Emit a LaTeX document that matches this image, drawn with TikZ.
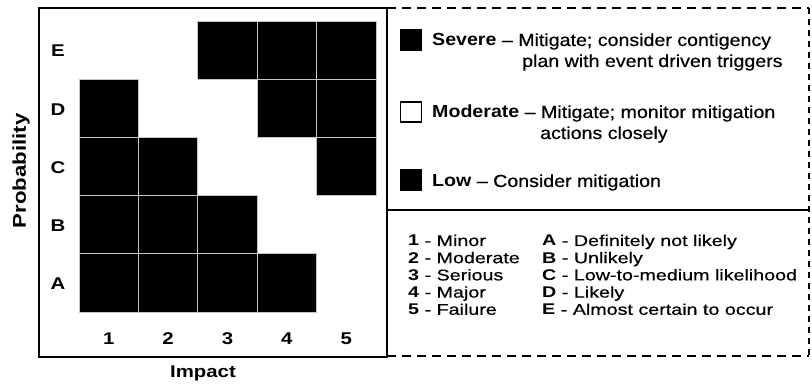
\documentclass[tikz,border=0pt]{standalone}
\usepackage{fontspec}
\setmainfont[FakeStretch=1.2,Ligatures=TeX]{Liberation Sans}
\newfontfamily\topf[FakeStretch=1.12,FakeBold=0.5,Ligatures=TeX,BoldFeatures={FakeBold=0}]{Liberation Sans}
\newfontfamily\botf[FakeStretch=1.27,FakeBold=0.5,Ligatures=TeX,BoldFeatures={FakeBold=0}]{Liberation Sans}
\begin{document}
\begin{tikzpicture}[x=1pt,y=-1pt,
  frame/.style={line width=2pt},
  dashframe/.style={line width=2pt,dash pattern=on 9pt off 6pt},
  vdashframe/.style={line width=1.2pt,dash pattern=on 6pt off 5pt},
  cellblk/.style={fill=black,draw=gray!45,line width=0.8pt},
  axlbl/.style={font=\bfseries\fontsize{17}{17}\selectfont,inner sep=0pt},
  axtitle/.style={font=\bfseries\fontsize{18.5}{18.5}\selectfont,inner sep=0pt},
  toptxt/.style={anchor=base west,inner sep=0pt,font=\topf\fontsize{17.5}{21}\selectfont},
  bottxt/.style={anchor=base west,inner sep=0pt,font=\botf\fontsize{15.5}{17}\selectfont},
  keybox/.style={minimum width=21pt,minimum height=20pt,inner sep=0pt,line width=1.3pt}
]
\useasboundingbox (0,0) rectangle (812,385);
\fill[white] (0,0) rectangle (812,385);

% matrix cells
\foreach \c/\r in {3/5,4/5,5/5,1/4,4/4,5/4,1/3,2/3,5/3,1/2,2/2,3/2,1/1,2/1,3/1,4/1}{
  \draw[cellblk] ({79+(\c-1)*59.4},{21+(5-\r)*58.2}) rectangle ++(59.4,58.2);
}

% row labels
\foreach \l/\r in {A/1,B/2,C/3,D/4,E/5}{
  \node[axlbl] (row\l) at (58,{21+(5-\r)*58.2+30}) {\l};
}
% column labels
\foreach \c in {1,...,5}{
  \node[axlbl] (col\c) at ({79+(\c-0.5)*59.4},339) {\c};
}
\node[axtitle,rotate=90] (prob) at (21,171) {Probability};
\node[axtitle,anchor=base,font=\bfseries\fontsize{17}{17}\selectfont] (imp) at (203,377) {Impact};

% frames
\draw[frame] (39,8) rectangle (387,357);
\draw[dashframe] (387,8) -- (809,8);
\draw[dashframe] (387,356) -- (809,356);
\draw[vdashframe] (809,8) -- (809,356);
\draw[line width=1.6pt] (387,210) -- (810,210);

% top legend
\node[keybox,fill=black,draw=black] (ksev) at (411,40) {};
\node[keybox,fill=white,draw=black] (kmod) at (411,112) {};
\node[keybox,fill=black,draw=black] (klow) at (411,180) {};

\node[toptxt] (sev1) at (432,46) {\textbf{Severe} – Mitigate; consider contigency};
\node[toptxt] (sev2) at (522,67) {plan with event driven triggers};
\node[toptxt] (mod1) at (432,118) {\textbf{Moderate} – Mitigate; monitor mitigation};
\node[toptxt] (mod2) at (540,139) {actions closely};
\node[toptxt] (low1) at (432,187) {\textbf{Low} – Consider mitigation};

% bottom legend
\foreach \i/\n [count=\k from 0] in {1/Minor,2/Moderate,3/Serious,4/Major,5/Failure}{
  \node[bottxt] (imp\i) at (408,{246+\k*17.2}) {\textbf{\i} - \n};
}
\node[bottxt] (pA) at (542,246) {\textbf{A} - Definitely not likely};
\node[bottxt] (pB) at (542,263.2) {\textbf{B} - Unlikely};
\node[bottxt] (pC) at (542,280.4) {\textbf{C} - Low-to-medium likelihood};
\node[bottxt] (pD) at (542,297.6) {\textbf{D} - Likely};
\node[bottxt] (pE) at (542,314.8) {\textbf{E} - Almost certain to occur};
\end{tikzpicture}
\end{document}
